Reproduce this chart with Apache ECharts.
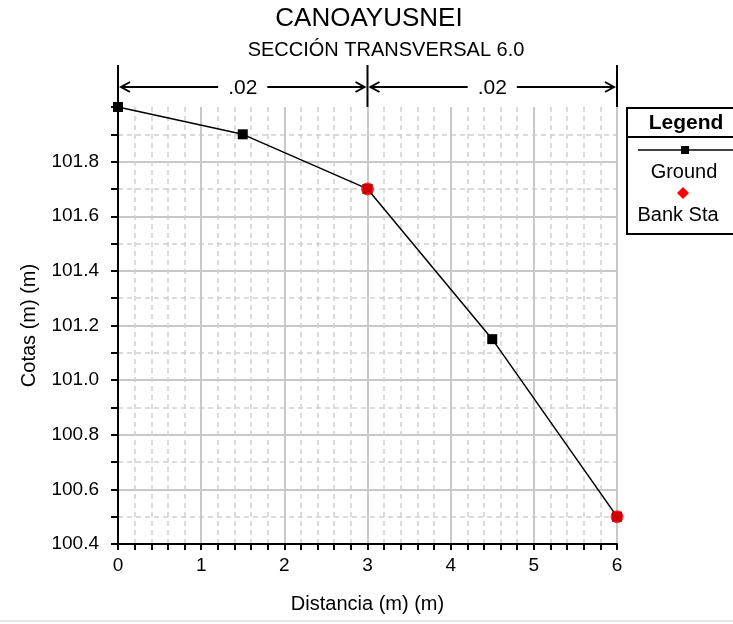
<!DOCTYPE html>
<html>
<head>
<meta charset="utf-8">
<script src="https://cdn.jsdelivr.net/npm/echarts@6/dist/echarts.min.js"></script>
<style>
  html, body { margin: 0; padding: 0; background: #fff; }
  #chart { width: 733px; height: 624px; }
</style>
</head>
<body>
<div id="chart"></div>
<script>
// station (m) and elevation (m) of the ground profile
var groundX = [0, 1.5, 3, 4.5, 6];
var groundY = [102.0, 101.9, 101.7, 101.15, 100.5];
// bank stations
var bankX = [3, 6];
var bankY = [101.7, 100.5];
// Manning's n between stations
var nStations = [0, 3, 6];
var nValues = ['.02', '.02'];

var FONT = '"Liberation Sans", Arial, sans-serif';

function pairs(xs, ys) {
    var out = [];
    for (var i = 0; i < xs.length; i++) out.push([xs[i], ys[i]]);
    return out;
}

var myChart = echarts.init(document.getElementById('chart'), null, {renderer: 'canvas'});

var option = {
    animation: false,
    backgroundColor: '#fff',
    title: [{
        text: 'CANOAYUSNEI',
        left: 364, top: 1, textAlign: 'center',
        textStyle: {fontFamily: FONT, fontSize: 26, fontWeight: 'normal', color: '#000'}
    }, {
        text: 'SECCIÓN TRANSVERSAL 6.0',
        left: 381, top: 35, textAlign: 'center',
        textStyle: {fontFamily: FONT, fontSize: 20, fontWeight: 'normal', color: '#000'}
    }],
    grid: {left: 118, right: 116, top: 107, bottom: 80},
    xAxis: {
        type: 'value', min: 0, max: 6, interval: 1,
        name: 'Distancia (m) (m)', nameLocation: 'middle', nameGap: 50,
        nameTextStyle: {fontFamily: FONT, fontSize: 20, color: '#000'},
        axisLine: {show: true, onZero: false, lineStyle: {color: '#000', width: 2}},
        axisTick: {show: true, length: 6, lineStyle: {color: '#000', width: 2}},
        minorTick: {show: true, splitNumber: 5, length: 6, lineStyle: {color: '#000', width: 2}},
        axisLabel: {fontFamily: FONT, fontSize: 19, color: '#000', margin: 12},
        splitLine: {show: true, lineStyle: {color: '#c8c8c8', width: 2}},
        minorSplitLine: {show: true, lineStyle: {color: '#cfcfcf', width: 1.5, type: [5, 4]}}
    },
    yAxis: {
        type: 'value', min: 100.4, max: 102.0, interval: 0.2,
        name: 'Cotas (m) (m)', nameLocation: 'middle', nameGap: 79,
        nameTextStyle: {fontFamily: FONT, fontSize: 20, color: '#000'},
        axisLine: {show: true, onZero: false, lineStyle: {color: '#000', width: 2}},
        axisTick: {show: true, length: 7, lineStyle: {color: '#000', width: 2}},
        minorTick: {show: true, splitNumber: 2, length: 7, lineStyle: {color: '#000', width: 2}},
        axisLabel: {
            fontFamily: FONT, fontSize: 19, color: '#000', margin: 19,
            showMaxLabel: false,
            formatter: function (v) { return v.toFixed(1); }
        },
        splitLine: {show: true, showMaxLine: false, lineStyle: {color: '#c8c8c8', width: 2}},
        minorSplitLine: {show: true, lineStyle: {color: '#cfcfcf', width: 1.5, type: [5, 4]}}
    },
    series: [{
        name: 'Ground',
        type: 'line',
        data: pairs(groundX, groundY),
        clip: false,
        symbol: 'rect', symbolSize: 10,
        itemStyle: {color: '#000'},
        lineStyle: {color: '#000', width: 1.5},
        z: 3
    }, {
        name: 'Bank Sta',
        type: 'scatter',
        data: pairs(bankX, bankY),
        clip: false,
        symbol: 'circle', symbolSize: 13,
        itemStyle: {color: '#ff0000'},
        z: 4
    }]
};

myChart.setOption(option);

// Manning's n annotation above the plot, placed with the axis scale
var yTop = 102.0;
var g = [];
var lineTop = 65, arrowY = 87;
var px = nStations.map(function (s) { return myChart.convertToPixel({gridIndex: 0}, [s, yTop]); });
var plotTop = px[0][1];
px.forEach(function (p) {
    g.push({type: 'line', shape: {x1: p[0], y1: lineTop, x2: p[0], y2: plotTop},
        style: {stroke: '#000', lineWidth: 2}, z: 10});
});
for (var i = 0; i < nValues.length; i++) {
    var a = px[i][0] + 3, b = px[i + 1][0] - 3;
    g.push({type: 'line', shape: {x1: a, y1: arrowY, x2: b, y2: arrowY},
        style: {stroke: '#000', lineWidth: 2}, z: 10});
    g.push({type: 'polyline', shape: {points: [[a + 9, arrowY - 5], [a, arrowY], [a + 9, arrowY + 5]]},
        style: {stroke: '#000', lineWidth: 2, fill: null}, z: 10});
    g.push({type: 'polyline', shape: {points: [[b - 9, arrowY - 5], [b, arrowY], [b - 9, arrowY + 5]]},
        style: {stroke: '#000', lineWidth: 2, fill: null}, z: 10});
    g.push({type: 'text', x: (a + b) / 2, y: arrowY + 1, z: 11,
        style: {text: nValues[i], fontFamily: FONT, fontSize: 21, fill: '#000',
            align: 'center', verticalAlign: 'middle',
            backgroundColor: '#fff', padding: [0, 10]}});
}

// legend box
var lx = 627, ly = 108;
g.push({type: 'rect', shape: {x: lx, y: ly, width: 120, height: 126},
    style: {fill: '#fff', stroke: '#000', lineWidth: 2}, z: 10});
g.push({type: 'line', shape: {x1: lx, y1: 137, x2: 733, y2: 137},
    style: {stroke: '#000', lineWidth: 2}, z: 11});
g.push({type: 'text', x: 686, y: 123, z: 11,
    style: {text: 'Legend', fontFamily: FONT, fontSize: 21, fontWeight: 'bold', fill: '#000',
        align: 'center', verticalAlign: 'middle'}});
g.push({type: 'line', shape: {x1: 638, y1: 150, x2: 733, y2: 150},
    style: {stroke: '#000', lineWidth: 1.5}, z: 11});
g.push({type: 'rect', shape: {x: 681, y: 146, width: 8, height: 8},
    style: {fill: '#000'}, z: 12});
g.push({type: 'text', x: 684, y: 172, z: 11,
    style: {text: 'Ground', fontFamily: FONT, fontSize: 20, fill: '#000',
        align: 'center', verticalAlign: 'middle'}});
g.push({type: 'polygon', shape: {points: [[683, 187], [689, 193], [683, 199], [677, 193]]},
    style: {fill: '#ff0000'}, z: 12});
g.push({type: 'text', x: 678, y: 215, z: 11,
    style: {text: 'Bank Sta', fontFamily: FONT, fontSize: 20, fill: '#000',
        align: 'center', verticalAlign: 'middle'}});

// bottom frame edge
g.push({type: 'line', shape: {x1: 0, y1: 621, x2: 733, y2: 621},
    style: {stroke: '#e6e6e6', lineWidth: 2}, z: 1});

myChart.setOption({graphic: {elements: g}});
window.onresize = myChart.resize;
</script>
</body>
</html>
